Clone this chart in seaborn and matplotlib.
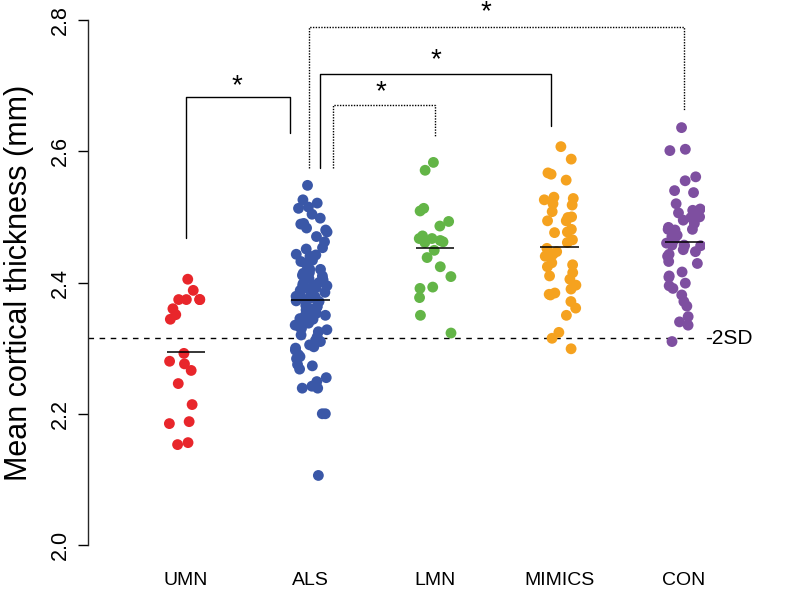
import numpy as np
import pandas as pd
import matplotlib
matplotlib.use("Agg")
import matplotlib.pyplot as plt
import seaborn as sns

groups = ["UMN", "ALS", "LMN", "MIMICS", "CON"]
colors = ["#E8262B", "#3A57A7", "#63B547", "#F5A21F", "#7E4FA0"]

umn = [2.405, 2.388, 2.374, 2.374, 2.374, 2.374, 2.360, 2.351, 2.344, 2.292,
       2.280, 2.276, 2.266, 2.246, 2.214, 2.188, 2.185, 2.156, 2.153]
als = [2.548, 2.526, 2.521, 2.515, 2.513, 2.504, 2.498, 2.490, 2.489, 2.483,
       2.480, 2.477, 2.470, 2.462, 2.453, 2.451, 2.443, 2.442, 2.434, 2.429,
       2.432, 2.427, 2.415, 2.411, 2.414, 2.406, 2.404, 2.396, 2.398, 2.395,
       2.390, 2.388, 2.384, 2.381, 2.379, 2.376, 2.374, 2.371, 2.371, 2.363,
       2.363, 2.358, 2.353, 2.349, 2.344, 2.338, 2.338, 2.335, 2.330, 2.328,
       2.320, 2.317, 2.312, 2.312, 2.305, 2.302, 2.297, 2.300, 2.287, 2.290,
       2.284, 2.275, 2.273, 2.268, 2.255, 2.249, 2.242, 2.239, 2.239, 2.200,
       2.200, 2.106, 2.420, 2.410, 2.400, 2.392, 2.385, 2.378, 2.365, 2.355,
       2.345, 2.332, 2.325, 2.310, 2.395, 2.405, 2.385, 2.372, 2.360, 2.350,
       2.420, 2.440]
lmn = [2.583, 2.571, 2.513, 2.509, 2.493, 2.486, 2.471, 2.467, 2.467, 2.461,
       2.462, 2.464, 2.449, 2.438, 2.424, 2.409, 2.393, 2.391, 2.377, 2.350,
       2.323]
mimics = [2.607, 2.588, 2.567, 2.565, 2.556, 2.528, 2.530, 2.526, 2.518, 2.508,
          2.499, 2.494, 2.494, 2.481, 2.477, 2.476, 2.461, 2.452, 2.443, 2.447,
          2.427, 2.424, 2.415, 2.405, 2.396, 2.384, 2.382, 2.381, 2.371, 2.361,
          2.350, 2.324, 2.315, 2.299, 2.465, 2.440, 2.410, 2.390, 2.500, 2.520,
          2.430]
con = [2.636, 2.603, 2.601, 2.561, 2.555, 2.537, 2.540, 2.512, 2.510, 2.506,
       2.500, 2.499, 2.503, 2.481, 2.484, 2.481, 2.472, 2.456, 2.457, 2.456,
       2.457, 2.447, 2.443, 2.450, 2.432, 2.429, 2.416, 2.408, 2.410, 2.399,
       2.395, 2.391, 2.381, 2.371, 2.364, 2.348, 2.340, 2.335, 2.310, 2.520,
       2.490, 2.470, 2.465, 2.480, 2.495, 2.460, 2.440]

sd_line = 2.315
yticks = [2.0, 2.2, 2.4, 2.6, 2.8]

# significance brackets: (x_left, x_right, y_top, y_left_end, y_right_end, star_x, star_y, style)
brackets = [
    (0.000, 0.835, 2.683, 2.468, 2.628, 0.410, 2.699, "-"),
    (1.181, 2.000, 2.671, 2.575, 2.622, 1.566, 2.690, ":"),
    (1.074, 2.929, 2.718, 2.575, 2.639, 2.008, 2.739, "-"),
    (0.990, 4.000, 2.789, 2.575, 2.663, 2.410, 2.812, ":"),
]

values = [umn, als, lmn, mimics, con]
df = pd.DataFrame({
    "group": np.concatenate([[g] * len(v) for g, v in zip(groups, values)]),
    "value": np.concatenate(values),
})

sns.set_style("white")
plt.rcParams["font.family"] = ["Liberation Sans", "DejaVu Sans"]
plt.rcParams["text.color"] = "black"
plt.rcParams["axes.labelcolor"] = "black"
plt.rcParams["xtick.color"] = "black"
plt.rcParams["ytick.color"] = "black"

fig = plt.figure(figsize=(7.88, 6.06), dpi=100)
ax = fig.add_axes([88 / 788, (606 - 564.7) / 606, 617 / 788, (564.7 - 0.3) / 606])

np.random.seed(3)
sns.stripplot(data=df, x="group", y="value", hue="group", order=groups,
              hue_order=groups, palette=dict(zip(groups, colors)), jitter=0.14,
              size=7.8, linewidth=0, legend=False, ax=ax, zorder=3)

means = df.groupby("group")["value"].mean()
for i, g in enumerate(groups):
    ax.hlines(means[g], i - 0.155, i + 0.155, color="black", lw=1.1, zorder=4)

ax.set_xlim(-0.787, 4.169)
ax.set_ylim(1.97, 2.83)

ax.plot([-0.787, 4.10], [sd_line, sd_line], color="black", lw=1.0,
        ls=(0, (4, 4)), zorder=1)
ax.text(4.17, sd_line, "-2SD", ha="left", va="center", fontsize=15, clip_on=False)

for xl, xr, yt, yl, yr, sx, sy, st in brackets:
    ax.plot([xl, xl, xr, xr], [yl, yt, yt, yr], color="black", lw=1.0,
            ls=st if st == "-" else (0, (1, 1)), clip_on=False, zorder=2)
    ax.text(sx, sy, "*", ha="center", va="center", fontsize=20, clip_on=False)

for s in ["top", "right", "bottom"]:
    ax.spines[s].set_visible(False)
ax.spines["left"].set_bounds(2.0, 2.8)
ax.spines["left"].set_linewidth(1.0)
ax.set_yticks(yticks)
ax.set_yticklabels([f"{t:.1f}" for t in yticks], rotation=90, va="center",
                   fontsize=15.5)
ax.tick_params(axis="y", direction="out", length=7, width=1.0, pad=5, left=True)
ax.tick_params(axis="x", length=0, pad=5, labelsize=14)
ax.set_xlabel("")
ax.set_ylabel("Mean cortical thickness (mm)", fontsize=22, labelpad=12)

fig.savefig("out.png", dpi=100)
